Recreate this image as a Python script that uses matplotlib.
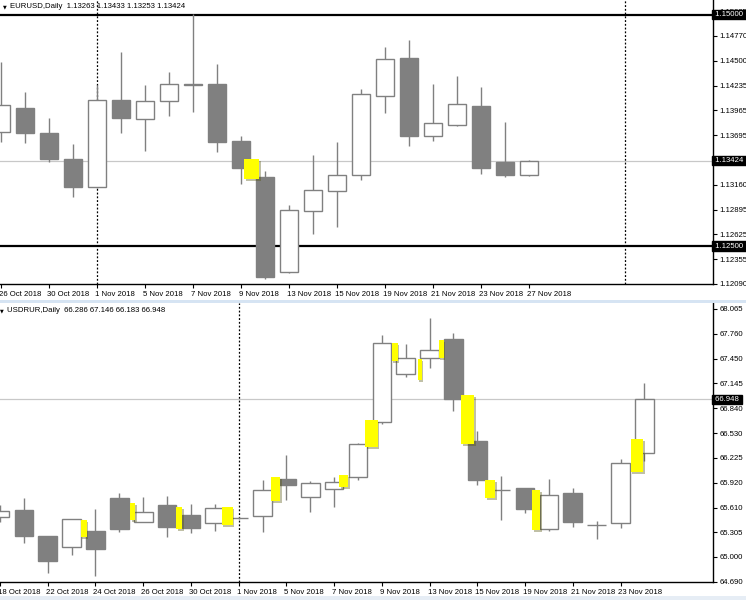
import matplotlib
matplotlib.use("Agg")
import matplotlib.pyplot as plt
import matplotlib.patheffects as pe
from matplotlib.patches import Rectangle
from matplotlib.transforms import ScaledTranslation, blended_transform_factory

# EURUSD daily, 26 Oct .. 27 Nov 2018
eur_open = [1.13733, 1.13992, 1.13722, 1.13441, 1.13138, 1.14078, 1.13873, 1.14068, 1.14251, 1.14251,
            1.13635, 1.13246, 1.12220, 1.12879, 1.13095, 1.13268, 1.14122, 1.14532, 1.13689, 1.13808,
            1.14014, 1.13408, 1.13263]
eur_high = [1.14489, 1.14165, 1.13884, 1.13603, 1.14241, 1.14597, 1.14241, 1.14381, 1.15003, 1.14467,
            1.13689, 1.13311, 1.12944, 1.13484, 1.13625, 1.14197, 1.14651, 1.14727, 1.14251, 1.14338,
            1.14219, 1.13841, 1.13433]
eur_low = [1.13625, 1.13614, 1.13408, 1.13030, 1.13130, 1.13722, 1.13527, 1.13906, 1.13949, 1.13517,
           1.13171, 1.12144, 1.12209, 1.12630, 1.12706, 1.13214, 1.13938, 1.13581, 1.13635, 1.13800,
           1.13279, 1.13246, 1.13253]
eur_close = [1.14024, 1.13722, 1.13441, 1.13138, 1.14078, 1.13884, 1.14068, 1.14251, 1.14245, 1.13625,
             1.13344, 1.12166, 1.12890, 1.13106, 1.13268, 1.14143, 1.14521, 1.13689, 1.13830, 1.14035,
             1.13344, 1.13268, 1.13424]
eur_dates = ["26 Oct 2018", "30 Oct 2018", "1 Nov 2018", "5 Nov 2018", "7 Nov 2018", "9 Nov 2018",
             "13 Nov 2018", "15 Nov 2018", "19 Nov 2018", "21 Nov 2018", "23 Nov 2018", "27 Nov 2018"]
eur_ticks = [1.12090, 1.12355, 1.12625, 1.12895, 1.13160, 1.13695, 1.13965, 1.14235, 1.14500,
             1.14770, 1.15035]
eur_levels = [1.15000, 1.12500]
eur_bid = 1.13424
eur_seps = [4, 26]
eur_gap_x = [10.44]
eur_gap_w = [0.62]
eur_gap_top = [1.13441]
eur_gap_bot = [1.13225]

# USDRUR daily, 18 Oct .. 26 Nov 2018
rub_open = [65.494, 65.580, 65.259, 65.123, 65.321, 65.729, 65.432, 65.642, 65.519, 65.420,
            65.482, 65.506, 65.964, 65.741, 65.840, 65.988, 66.668, 67.262, 67.459, 67.694,
            66.433, 65.828, 65.852, 65.346, 65.791, 65.395, 65.420, 66.286]
rub_high = [65.642, 65.729, 65.259, 65.469, 65.593, 65.791, 65.741, 65.754, 65.655, 65.655,
            65.490, 65.951, 66.260, 65.939, 65.988, 66.409, 67.744, 67.632, 67.954, 67.768,
            66.557, 66.001, 65.852, 65.964, 65.852, 65.444, 66.211, 67.146]
rub_low = [65.432, 65.173, 64.802, 65.024, 64.765, 65.309, 65.432, 65.247, 65.296, 65.321,
           65.470, 65.309, 65.704, 65.556, 65.618, 65.951, 66.643, 67.224, 67.336, 66.804,
           65.889, 65.457, 65.543, 65.321, 65.370, 65.222, 65.358, 66.183]
rub_close = [65.568, 65.259, 64.950, 65.469, 65.098, 65.346, 65.556, 65.370, 65.358, 65.605,
             65.478, 65.828, 65.889, 65.914, 65.927, 66.396, 67.645, 67.459, 67.558, 66.953,
             65.951, 65.826, 65.593, 65.766, 65.432, 65.393, 66.161, 66.948]
rub_dates = ["18 Oct 2018", "22 Oct 2018", "24 Oct 2018", "26 Oct 2018", "30 Oct 2018", "1 Nov 2018",
             "5 Nov 2018", "7 Nov 2018", "9 Nov 2018", "13 Nov 2018", "15 Nov 2018", "19 Nov 2018",
             "21 Nov 2018", "23 Nov 2018"]
rub_ticks = [64.690, 65.000, 65.305, 65.610, 65.920, 66.225, 66.530, 66.840, 67.145, 67.450,
             67.760, 68.065]
rub_bid = 66.948
rub_seps = [9]
rub_gap_x = [2.5, 4.56, 6.5, 8.52, 10.56, 13.4, 14.56, 15.54, 16.58, 17.48, 18.6, 19.54, 21.46, 25.69]
rub_gap_w = [0.25, 0.21, 0.25, 0.46, 0.38, 0.38, 0.54, 0.25, 0.17, 0.21, 0.54, 0.42, 0.33, 0.54]
rub_gap_top = [65.457, 65.667, 65.618, 65.618, 65.988, 66.013, 66.693, 67.645, 67.447, 67.682,
               67.002, 65.951, 65.828, 66.458]
rub_gap_bot = [65.247, 65.457, 65.346, 65.395, 65.692, 65.865, 66.359, 67.422, 67.187, 67.459,
               66.396, 65.729, 65.333, 66.050]

gray = "#808080"
fs = 5.6
plt.rcParams["font.family"] = ["Liberation Sans", "DejaVu Sans"]

fig = plt.figure(figsize=(7.46, 6.0), dpi=100)
ax1 = fig.add_axes([0, 316 / 600, 713 / 746, 284 / 600])
ax2 = fig.add_axes([0, 18 / 600, 713 / 746, 279 / 600])


def candles(ax, first, o, h, l, c):
    xs = list(range(first, first + len(o)))
    ax.vlines(xs, l, h, color=gray, lw=1, zorder=2)
    for x, oo, cc in zip(xs, o, c):
        face = "white" if cc >= oo else gray
        ax.bar(x, abs(cc - oo), bottom=min(oo, cc), width=0.78, facecolor=face,
               edgecolor=gray, lw=1, zorder=3)


def gaps(ax, gx, gw, top, bot):
    for x, w, t, b in zip(gx, gw, top, bot):
        r = Rectangle((x - w / 2, b), w, t - b, facecolor="#ffff00", edgecolor="none", zorder=4,
                      path_effects=[pe.SimplePatchShadow(offset=(1.2, -1.2), alpha=0.35), pe.Normal()])
        ax.add_patch(r)


def frame(ax, ticks, fmt, tpos, tlabels):
    for s in ["left", "top"]:
        ax.spines[s].set_visible(False)
    ax.spines["right"].set_linewidth(1)
    ax.spines["bottom"].set_linewidth(1)
    ax.yaxis.tick_right()
    ax.set_yticks(ticks)
    ax.set_yticklabels([fmt % t for t in ticks])
    ax.tick_params(axis="y", direction="out", length=3, width=0.8, pad=1.5, labelsize=fs)
    ax.set_xticks(tpos)
    ax.set_xticklabels(tlabels)
    ax.tick_params(axis="x", direction="out", length=3, width=0.8, pad=2, labelsize=fs)
    for lab in ax.get_xticklabels():
        lab.set_horizontalalignment("left")
        lab.set_transform(lab.get_transform() + ScaledTranslation(-1.5 / 72, 0, fig.dpi_scale_trans))


def badge(ax, y, txt):
    tr = blended_transform_factory(ax.transAxes, ax.transData)
    ax.text(1.0, y, " " + txt + " ", transform=tr, fontsize=fs, color="white", va="center", ha="left",
            clip_on=False, zorder=10,
            bbox=dict(boxstyle="square,pad=0.15", facecolor="black", edgecolor="black"))


# top panel
ax1.set_xlim(-1 / 24, 712 / 24)
ax1.set_ylim(1.12090, 1.15159)
candles(ax1, 0, eur_open, eur_high, eur_low, eur_close)
gaps(ax1, eur_gap_x, eur_gap_w, eur_gap_top, eur_gap_bot)
for lv in eur_levels:
    ax1.axhline(lv, color="black", lw=1.6, zorder=1)
ax1.axhline(eur_bid, color="#c8c8c8", lw=0.9, zorder=1)
for sx in eur_seps:
    ax1.axvline(sx, color="black", lw=0.9, ls=(0, (1.5, 1.5)), zorder=1)
frame(ax1, eur_ticks, "%.5f", list(range(0, 23, 2)), eur_dates)
badge(ax1, 1.15000, "1.15000")
badge(ax1, eur_bid, "1.13424")
badge(ax1, 1.12500, "1.12500")

# bottom panel
ax2.set_xlim(-20 / 24, 693 / 24)
ax2.set_ylim(64.690, 68.139)
candles(ax2, -1, rub_open, rub_high, rub_low, rub_close)
gaps(ax2, rub_gap_x, rub_gap_w, rub_gap_top, rub_gap_bot)
ax2.axhline(rub_bid, color="#c8c8c8", lw=0.9, zorder=1)
for sx in rub_seps:
    ax2.axvline(sx, color="black", lw=0.9, ls=(0, (1.5, 1.5)), zorder=1)
frame(ax2, rub_ticks, "%.3f", list(range(-1, 26, 2)), rub_dates)
badge(ax2, rub_bid, "66.948")

# headers and window bands
fig.text(3 / 746, 1 - 7 / 600, "\u25BC", fontsize=3.5, family="DejaVu Sans", va="center")
fig.text(10 / 746, 1 - 7 / 600, "EURUSD,Daily  1.13263 1.13433 1.13253 1.13424", fontsize=fs, va="center")
fig.text(0 / 746, 1 - 311 / 600, "\u25BC", fontsize=3.5, family="DejaVu Sans", va="center")
fig.text(7 / 746, 1 - 311 / 600, "USDRUR,Daily  66.286 67.146 66.183 66.948", fontsize=fs, va="center")
fig.patches.append(Rectangle((0, 1 - 303 / 600), 1, 3 / 600, transform=fig.transFigure,
                             facecolor="#d6e4f3", edgecolor="none"))
fig.patches.append(Rectangle((0, 0), 1, 4 / 600, transform=fig.transFigure,
                             facecolor="#e6edf5", edgecolor="none"))

fig.savefig("out.png", dpi=100, facecolor="white")
